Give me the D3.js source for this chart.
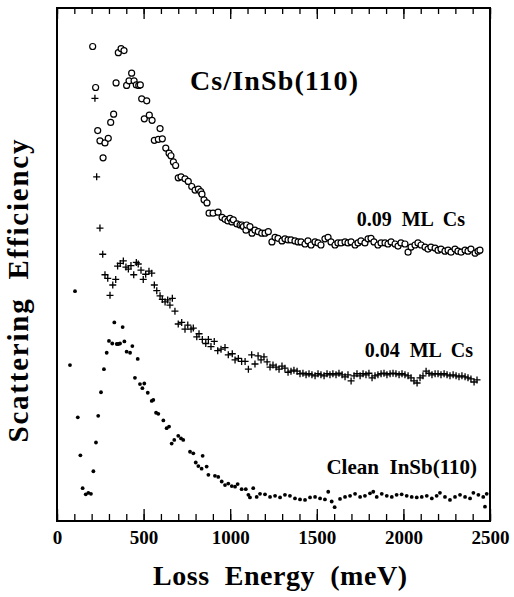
<!DOCTYPE html>
<html>
<head>
<meta charset="utf-8">
<script src="https://cdn.jsdelivr.net/npm/d3@7"></script>
<style>
  body { margin: 0; background: #fff; }
</style>
</head>
<body>
<div id="chart-area"></div>
<script>
// loss energy (meV), scattering efficiency (arb. units)
const cs009 = [[206,92.5],[223,84.5],[235,76.1],[248,74.1],[266,70.8],[277,73.7],[296,74.6],[310,77.7],[327,79.3],[341,85.4],
  [354,91.3],[370,92.1],[387,91.7],[402,84.9],[416,85.8],[431,87.3],[445,85.8],[458,85.0],[472,84.9],[481,85.0],
  [489,82.3],[504,78.4],[518,81.9],[533,79.1],[549,78.1],[562,74.2],[585,74.4],[595,76.5],[608,74.5],[628,72.7],
  [647,71.7],[658,71.2],[672,70.0],[685,69.3],[700,66.9],[716,67.1],[739,66.7],[758,66.2],[778,65.2],[797,64.5],
  [816,64.7],[830,64.2],[837,63.7],[849,62.6],[866,62.0],[878,60.0],[901,60.0],[930,60.2],[953,59.2],[970,58.8],
  [987,58.5],[999,59.0],[1010,58.3],[1018,58.7],[1039,57.9],[1057,57.7],[1068,57.7],[1076,57.4],[1091,56.7],[1095,57.7],
  [1114,57.4],[1126,56.1],[1143,56.7],[1162,56.4],[1182,56.1],[1201,56.1],[1220,56.4],[1241,54.4],[1259,55.3],[1276,55.1],
  [1299,54.6],[1316,55.0],[1334,54.8],[1351,54.8],[1374,54.6],[1392,54.4],[1409,54.4],[1432,54.0],[1449,54.6],[1467,53.8],
  [1490,54.4],[1507,54.2],[1524,53.8],[1547,55.0],[1565,55.3],[1582,54.4],[1605,53.8],[1622,54.2],[1640,54.2],[1663,54.4],
  [1680,54.2],[1698,54.4],[1721,53.8],[1738,54.2],[1755,54.6],[1778,54.2],[1796,55.0],[1813,55.1],[1830,54.4],[1853,53.8],
  [1871,54.2],[1894,54.2],[1911,54.0],[1929,54.4],[1952,54.0],[1969,53.6],[1986,54.2],[2009,54.0],[2027,52.4],[2044,53.4],
  [2067,53.8],[2084,54.2],[2102,53.8],[2125,53.4],[2142,53.0],[2159,53.4],[2183,53.2],[2200,52.8],[2217,53.0],[2240,52.6],
  [2258,52.8],[2275,52.4],[2298,53.0],[2315,52.6],[2333,52.4],[2356,52.8],[2373,52.6],[2390,53.0],[2414,52.2],[2431,52.6],
  [2442,52.8]];

const cs004 = [[219,82.4],[229,67.1],[248,57.1],[264,52.0],[277,48.0],[293,47.3],[306,44.0],[322,46.0],[339,47.1],[350,49.7],
  [365,50.2],[383,50.7],[398,49.5],[412,49.1],[427,49.8],[443,48.0],[458,50.4],[469,50.1],[485,48.9],[498,47.1],
  [512,48.1],[531,48.7],[547,48.3],[562,46.0],[576,44.9],[595,43.9],[608,43.2],[624,42.7],[639,43.1],[652,42.1],
  [666,43.4],[681,40.9],[700,38.4],[720,38.7],[739,37.4],[755,38.2],[774,37.4],[787,37.6],[807,35.9],[820,36.5],
  [839,35.4],[859,34.6],[874,35.4],[889,34.0],[908,35.0],[928,33.2],[947,33.5],[970,33.8],[989,32.4],[1012,32.6],
  [1028,31.4],[1047,31.7],[1066,31.1],[1086,31.1],[1105,29.6],[1124,32.4],[1143,30.6],[1161,32.2],[1178,31.4],[1195,32.0],
  [1213,31.0],[1230,30.0],[1247,30.4],[1265,30.0],[1282,29.6],[1299,30.2],[1316,29.8],[1334,29.0],[1351,29.2],[1368,29.4],
  [1386,29.2],[1403,28.7],[1420,28.8],[1438,28.5],[1455,28.7],[1472,28.5],[1490,28.3],[1507,28.7],[1524,28.5],[1542,28.3],
  [1559,28.7],[1576,28.5],[1593,28.7],[1611,28.5],[1628,28.8],[1646,28.5],[1663,28.1],[1680,28.5],[1698,27.3],[1715,28.3],
  [1732,28.7],[1750,28.3],[1767,28.7],[1784,28.5],[1801,28.8],[1819,27.9],[1836,28.3],[1853,28.5],[1871,28.7],[1888,28.8],
  [1905,28.5],[1923,28.7],[1940,28.8],[1957,28.7],[1975,28.5],[1992,28.7],[2009,28.5],[2027,28.3],[2044,27.9],[2061,27.3],
  [2079,26.9],[2096,27.9],[2113,28.3],[2131,29.2],[2148,28.8],[2165,28.5],[2183,28.7],[2200,28.7],[2217,28.5],[2235,28.7],
  [2252,28.5],[2269,28.3],[2287,28.5],[2304,28.3],[2321,28.1],[2338,28.3],[2356,28.1],[2373,27.9],[2390,27.7],[2408,27.1],
  [2425,27.5]];

const clean = [[75,30.4],[104,44.8],[120,20.2],[135,12.8],[148,6.4],[166,5.2],[181,5.5],[196,5.3],[210,9.7],[225,15.3],
  [238,20.5],[254,25.1],[271,29.6],[287,32.8],[300,35.1],[319,34.6],[331,38.7],[345,34.5],[354,34.5],[364,34.6],
  [379,37.8],[389,35.0],[402,33.0],[422,32.8],[435,34.1],[450,27.9],[466,31.6],[479,26.7],[493,25.9],[504,26.8],
  [524,25.0],[547,23.4],[556,23.6],[572,21.1],[585,20.9],[614,19.6],[633,18.1],[647,18.4],[662,15.1],[677,15.8],
  [700,16.6],[716,16.1],[729,15.8],[768,13.5],[787,13.2],[801,11.4],[816,10.7],[835,10.2],[841,12.7],[864,10.6],
  [874,9.0],[912,8.8],[931,8.6],[951,7.7],[970,7.0],[989,7.3],[1009,6.8],[1028,6.7],[1043,7.2],[1066,6.2],
  [1090,6.2],[1105,5.1],[1114,4.6],[1133,6.4],[1153,4.7],[1172,5.3],[1201,5.2],[1230,4.7],[1259,4.9],[1288,4.6],
  [1316,5.1],[1345,4.9],[1374,4.4],[1403,4.2],[1432,4.1],[1461,4.6],[1490,4.7],[1519,4.4],[1547,4.2],[1566,5.7],
  [1586,3.8],[1603,2.7],[1634,4.3],[1663,4.7],[1692,4.9],[1721,5.3],[1750,4.7],[1778,4.9],[1807,5.4],[1826,5.7],
  [1846,4.7],[1875,5.3],[1904,4.9],[1933,4.7],[1961,5.1],[1990,5.2],[2019,4.9],[2048,4.7],[2077,4.6],[2106,4.7],
  [2135,4.9],[2164,4.4],[2192,4.9],[2211,5.5],[2240,4.7],[2269,4.1],[2298,4.7],[2327,5.1],[2356,4.7],[2385,4.4],
  [2404,5.5],[2433,5.1],[2461,4.7],[2471,2.8],[2481,5.3]];

const xMajor = [0, 500, 1000, 1500, 2000, 2500];
const xMinor = d3.range(0, 2501, 100);

const FONT = "Liberation Serif";

const margin = { left: 57, right: 24, top: 8, bottom: 76 };
const full_width = 514, full_height = 597;
const width = full_width - margin.left - margin.right,
    height = full_height - margin.top - margin.bottom;

const svg = d3.select("#chart-area")
    .append("svg")
    .attr("width", full_width)
    .attr("height", full_height);

const g = svg.append("g")
    .attr("transform", "translate(" + margin.left + ", " + margin.top + ")");

const x = d3.scaleLinear().domain([0, 2500]).range([0, width]);
const y = d3.scaleLinear().domain([0, 100]).range([height, 0]);

// ticks, pointing inward on bottom and top
function tickAxis(axis, size, labels) {
    return axis.tickSizeInner(size).tickSizeOuter(0)
        .tickFormat(labels ? d3.format("d") : "");
}

g.append("g").attr("transform", "translate(0," + height + ")")
    .call(tickAxis(d3.axisBottom(x).tickValues(xMinor), -7, false));
g.append("g").attr("transform", "translate(0," + height + ")")
    .call(tickAxis(d3.axisBottom(x).tickValues(xMajor), -12, true).tickPadding(10))
    .attr("font-family", null)
    .selectAll("text")
        .style("font-family", FONT)
        .style("font-weight", "bold")
        .attr("font-size", "19px")
        .attr("fill", "#000");
g.append("g")
    .call(tickAxis(d3.axisTop(x).tickValues(xMinor), -6, false));
g.append("g")
    .call(tickAxis(d3.axisTop(x).tickValues(xMajor), -11, false));

g.selectAll(".domain").remove();
g.selectAll(".tick line").attr("stroke", "#000").attr("stroke-width", 1.3);

g.append("rect")
    .attr("width", width).attr("height", height)
    .attr("fill", "none").attr("stroke", "#000").attr("stroke-width", 2);

// series
g.selectAll(".c009").data(cs009).enter().append("circle")
    .attr("cx", d => x(d[0])).attr("cy", d => y(d[1]))
    .attr("r", 3).attr("fill", "#fff").attr("stroke", "#000").attr("stroke-width", 1.2);

g.selectAll(".c004").data(cs004).enter().append("path")
    .attr("transform", d => "translate(" + x(d[0]) + "," + y(d[1]) + ")")
    .attr("d", "M-3.5,0H3.5M0,-3.5V3.5")
    .attr("stroke", "#000").attr("stroke-width", 1.3);

g.selectAll(".clean").data(clean).enter().append("circle")
    .attr("cx", d => x(d[0])).attr("cy", d => y(d[1]))
    .attr("r", 1.9).attr("fill", "#000");

// labels
function label(sel) {
    return sel.style("font-family", FONT).style("font-weight", "bold")
        .style("white-space", "pre").attr("fill", "#000");
}

g.append("text").attr("x", 133).attr("y", 82)
    .attr("font-size", "28px").attr("textLength", 168).attr("lengthAdjust", "spacing")
    .call(label)
    .text("Cs/InSb(110)");

const notes = [["0.09  ML  Cs", 408, 218, 20], ["0.04  ML  Cs", 416, 349, 20], ["Clean  InSb(110)", 420, 466, 21]];
g.selectAll(".note").data(notes).enter().append("text")
    .attr("x", d => d[1]).attr("y", d => d[2])
    .attr("text-anchor", "end").attr("font-size", d => d[3] + "px")
    .call(label)
    .text(d => d[0]);

svg.append("text")
    .attr("x", 280).attr("y", 585)
    .attr("text-anchor", "middle").attr("font-size", "28px")
    .attr("textLength", 254).attr("lengthAdjust", "spacing")
    .call(label)
    .text("Loss  Energy  (meV)");

svg.append("text")
    .attr("transform", "translate(28,291) rotate(-90)")
    .attr("text-anchor", "middle").attr("font-size", "29px")
    .attr("textLength", 303).attr("lengthAdjust", "spacing")
    .call(label)
    .text("Scattering  Efficiency");
</script>
</body>
</html>
